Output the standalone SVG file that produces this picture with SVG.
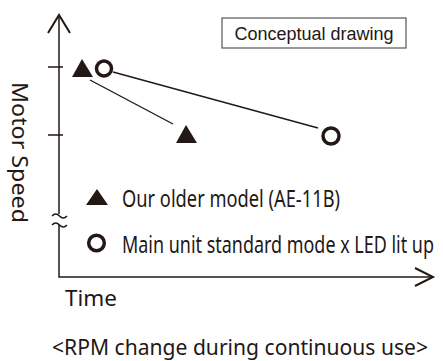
<svg xmlns="http://www.w3.org/2000/svg" width="443" height="361" viewBox="0 0 443 361">
<style>
.ax{stroke:#231815;stroke-width:1.5;fill:none}
.ah{stroke:#231815;stroke-width:2;fill:none;stroke-linejoin:miter}
.ln{stroke:#231815;stroke-width:1.4;fill:none}
.tri{fill:#231815}
.cir{fill:none;stroke:#231815;stroke-width:3.5}
.t{font-family:"Noto Sans","Open Sans",sans-serif;fill:#231815}
.box{fill:#fff;stroke:#555;stroke-width:1.2}
</style>
<rect width="443" height="361" fill="#fff"/>
<g id="axes">
<path class="ax" d="M59,15V214M59,225V277H432"/>
<path class="ah" d="M48,33L59,15L70,33"/>
<path class="ah" d="M415,268L433,277L415,286"/>
<path class="ax" d="M48,67H63M48,135H63"/>
<path class="ax" d="M52,216q3.7,-4 7.5,0t7.5,0M52,225q3.7,-4 7.5,0t7.5,0"/>
</g>
<g id="connectors">
<line class="ln" x1="113" y1="72" x2="318" y2="128"/>
<line class="ln" x1="90" y1="80" x2="173" y2="124"/>
</g>
<g id="older-start"><polygon class="tri" points="82,59 72,77 93,77"/></g>
<g id="main-start"><circle class="cir" cx="104" cy="68.5" r="7.5"/></g>
<g id="older-end"><polygon class="tri" points="186,125 176,143 197,143"/></g>
<g id="main-end"><circle class="cir" cx="331" cy="136" r="8"/></g>
<g id="label-box">
<rect class="box" x="222" y="18" width="184" height="30"/>
<text x="314" y="40" text-anchor="middle" style="font-family:'Liberation Sans',Arial,sans-serif;font-size:18px;fill:#231815">Conceptual drawing</text>
</g>
<g id="ylabel"><text class="t" transform="translate(12,82) rotate(90)" font-size="21" textLength="141" lengthAdjust="spacingAndGlyphs">Motor Speed</text></g>
<g id="legend-older">
<polygon class="tri" points="97,189 86,205 108,205"/>
<text class="t" x="122" y="207" font-size="23" textLength="218" lengthAdjust="spacingAndGlyphs">Our older model (AE-11B)</text>
</g>
<g id="legend-main">
<circle class="cir" cx="96.5" cy="243" r="7.8"/>
<text class="t" transform="translate(122,253) scale(0.75,1)" font-size="23" textLength="416" lengthAdjust="spacingAndGlyphs">Main unit standard mode x LED lit up</text>
</g>
<g id="xlabel"><text class="t" x="65" y="306" font-size="22" textLength="52" lengthAdjust="spacingAndGlyphs">Time</text></g>
<g id="caption"><text class="t" x="52" y="355" font-size="21" textLength="376" lengthAdjust="spacingAndGlyphs">&lt;RPM change during continuous use&gt;</text></g>
</svg>
